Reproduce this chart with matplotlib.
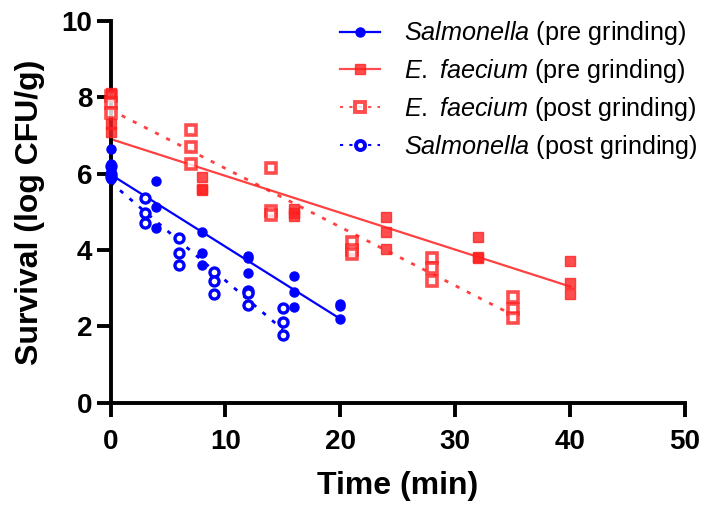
import numpy as np
import matplotlib
matplotlib.use("Agg")
import matplotlib.pyplot as plt

plt.rcParams['font.family'] = ['Liberation Sans', 'DejaVu Sans']
plt.rcParams['mathtext.fontset'] = 'custom'
plt.rcParams['mathtext.rm'] = 'Liberation Sans'
plt.rcParams['mathtext.it'] = 'Liberation Sans:italic'

# Salmonella, pre grinding (filled circles)
sal_pre_t = [0, 0, 0, 0, 0, 0, 4, 4, 4, 8, 8, 8, 12, 12, 12, 16, 16, 16, 20, 20, 20]
sal_pre_y = [6.65, 6.25, 6.15, 6.05, 5.95, 5.85, 5.8, 5.12, 4.57, 4.48, 3.93, 3.62,
             3.85, 3.8, 3.4, 3.32, 2.9, 2.5, 2.6, 2.54, 2.2]

# Salmonella, post grinding (open circles; t=0 hidden under the pre points)
sal_post_t = [0, 0, 0, 3, 3, 3, 6, 6, 6, 9, 9, 9, 12, 12, 12, 15, 15, 15]
sal_post_y = [6.2, 6.0, 5.9, 5.36, 4.97, 4.72, 4.32, 3.92, 3.6, 3.43, 3.2, 2.86,
              2.92, 2.88, 2.57, 2.48, 2.12, 1.78]

# E. faecium, pre grinding (filled squares)
ef_pre_t = [0, 0, 0, 8, 8, 8, 16, 16, 16, 24, 24, 24, 32, 32, 32, 40, 40, 40]
ef_pre_y = [8.12, 7.3, 7.1, 5.92, 5.6, 5.58, 5.07, 4.96, 4.9, 4.87, 4.47, 4.03,
            4.33, 3.82, 3.79, 3.72, 3.14, 2.85]

# E. faecium, post grinding (open squares)
ef_post_t = [0, 0, 0, 7, 7, 7, 14, 14, 14, 21, 21, 21, 28, 28, 28, 35, 35, 35]
ef_post_y = [8.02, 7.85, 7.6, 7.13, 6.71, 6.25, 6.14, 5.02, 4.92, 4.22, 4.0, 3.9,
             3.8, 3.53, 3.2, 2.77, 2.46, 2.22]

blue = '#0000ff'
red = '#ff2020'
dots = (0, (1.5, 3))

fig = plt.figure(figsize=(7.04, 5.08), dpi=100)
ax = fig.add_axes([0.157, 0.207, 0.816, 0.752])


def fit_line(t, y):
    slope, icpt = np.polyfit(t, y, 1)
    xs = np.array([0, max(t)])
    return xs, icpt + slope * xs


# regression lines
xs, ys = fit_line(sal_pre_t, sal_pre_y)
ax.plot(xs, ys, color=blue, lw=1.6, zorder=2)
xs, ys = fit_line(ef_pre_t, ef_pre_y)
ax.plot(xs, ys, color=red, lw=1.6, alpha=0.85, zorder=2)
xs, ys = fit_line(ef_post_t, ef_post_y)
ax.plot(xs, ys, color=red, lw=2, ls=dots, alpha=0.85, zorder=2)
xs, ys = fit_line(sal_post_t, sal_post_y)
ax.plot(xs, ys, color=blue, lw=2, ls=dots, zorder=2)

# points
ax.plot(sal_post_t, sal_post_y, 'o', mfc='white', mec=blue, mew=2.4, ms=6.5,
        ls='none', zorder=3, clip_on=False)
ax.plot(sal_pre_t, sal_pre_y, 'o', color=blue, ms=6.5, mec=blue, ls='none',
        zorder=4, clip_on=False)
ax.plot(ef_post_t, ef_post_y, 's', mfc='white', mec=red, mew=2.6, ms=6.5,
        alpha=0.8, ls='none', zorder=3, clip_on=False)
ax.plot(ef_pre_t, ef_pre_y, 's', color=red, ms=6.5, mec=red, alpha=0.8, ls='none',
        zorder=3, clip_on=False)

# legend handles
h1, = ax.plot([], [], color=blue, lw=1.6, marker='o', ms=6.5)
h2, = ax.plot([], [], color=red, lw=1.6, marker='s', ms=6.5, alpha=0.8)
h3, = ax.plot([], [], color=red, lw=1.5, ls=dots, marker='s', ms=6.5,
              mfc='white', mec=red, mew=2.8, alpha=0.8)
h4, = ax.plot([], [], color=blue, lw=1.5, ls=dots, marker='o', ms=6.5,
              mfc='white', mec=blue, mew=2.8)
labels = [r'$\it{Salmonella}$ (pre grinding)',
          r'$\it{E.\ faecium}$ (pre grinding)',
          r'$\it{E.\ faecium}$ (post grinding)',
          r'$\it{Salmonella}$ (post grinding)']
ax.legend([h1, h2, h3, h4], labels, loc='upper left', bbox_to_anchor=(0.382, 1.03),
          borderaxespad=0, frameon=False, fontsize=18.2, handlelength=1.56,
          handletextpad=0.98, labelspacing=0.39)

ax.set_xlim(0, 50)
ax.set_ylim(0, 10)
ax.set_xticks([0, 10, 20, 30, 40, 50])
ax.set_yticks([0, 2, 4, 6, 8, 10])
for s in ['top', 'right']:
    ax.spines[s].set_visible(False)
for s in ['left', 'bottom']:
    ax.spines[s].set_linewidth(2.8)
ax.tick_params(width=2.8, length=10, labelsize=20)
ax.tick_params(axis='x', pad=9)
ax.tick_params(axis='y', pad=3)
for lab in ax.get_xticklabels() + ax.get_yticklabels():
    lab.set_fontweight('bold')
ax.set_xlabel('Time (min)', fontsize=23, fontweight='bold', labelpad=11)
ax.set_ylabel('Survival (log CFU/g)', fontsize=23, fontweight='bold', labelpad=12)

fig.savefig('out.png', dpi=100)
